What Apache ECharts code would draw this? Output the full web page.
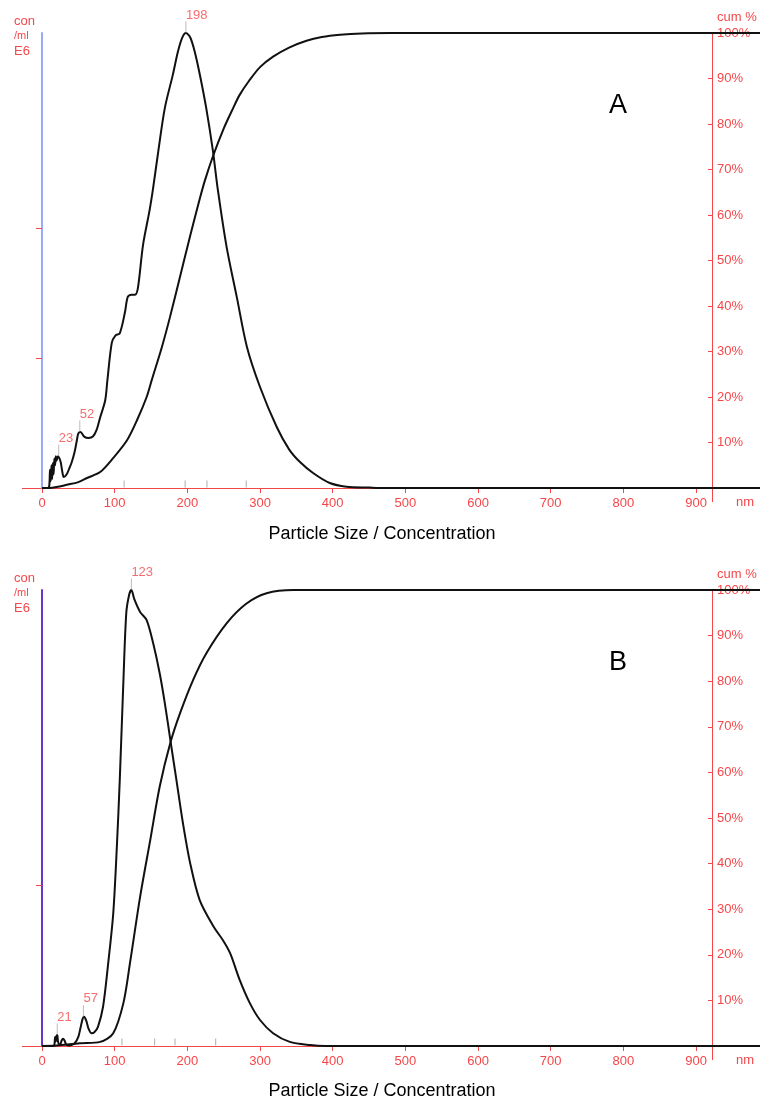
<!DOCTYPE html>
<html>
<head>
<meta charset="utf-8">
<title>Particle Size / Concentration</title>
<script src="https://cdn.jsdelivr.net/npm/echarts@6/dist/echarts.min.js"></script>
<style>
  html,body{margin:0;padding:0;background:#fff;}
  #chart{width:760px;height:1099px;}
</style>
</head>
<body>
<div id="chart"></div>
<script>
// ---- data ----
// sample A : concentration (% of mode height) and cumulative %
let sizeA_conc = [0, 8, 10, 11, 12, 13, 14, 15, 16, 17, 18, 19, 20, 22, 24, 26, 28, 30, 34, 38, 41, 45, 48, 50, 53, 58, 64, 70, 75, 80, 87, 90, 96, 101, 107, 114, 118, 123, 128, 132, 139, 148, 153, 160, 169, 180, 187, 193, 198, 204, 210, 217, 226, 235, 242, 254, 268, 282, 300, 323, 340, 355, 373, 396, 419, 450, 470, 988];
let concA = [0, 0, 0.5, 4, 1.5, 5, 2, 5.5, 3, 6.5, 5, 7, 6, 7, 6.5, 5.5, 3.5, 2.4, 3, 4.5, 5.7, 8, 10.5, 12, 12.3, 11.3, 11, 11.3, 12.7, 15.5, 19.3, 23.7, 31.9, 33.5, 34, 38.5, 42, 42.5, 42.5, 44, 53.4, 61, 66, 74, 83.5, 90.8, 95.9, 99, 100, 99, 96, 91, 83.5, 74.3, 65.5, 53, 42, 31, 22.2, 13.4, 8.5, 5.7, 3.3, 1.1, 0.3, 0.1, 0, 0];
let sizeA_cum = [0, 10, 20, 34, 50, 62, 80, 98, 117, 131, 144, 151, 165, 176, 190, 204, 217, 224, 235, 250, 263, 272, 285, 300, 318, 340, 364, 385, 410, 440, 480, 988];
let cumA = [0, 0, 0.2, 0.7, 1.3, 2.2, 3.5, 6.6, 10.5, 15, 20, 23.7, 31, 37.5, 46.5, 55.5, 63.5, 67.5, 72.8, 79, 83.5, 86.4, 89.5, 92.5, 94.8, 96.8, 98.3, 99.1, 99.6, 99.9, 100, 100];
let peaksA = [[198, 100], [23, 7], [52, 12.3]];
let statsA = [113, 197, 227, 281];
let modeA = 3.5;   // E6 at the mode (axis ticks at 1 and 2)

// sample B
let sizeB_conc = [0, 15, 17, 18, 19, 20, 21, 22, 23, 25, 27, 29, 31, 33, 36, 40, 45, 50, 53, 56, 58, 61, 64, 68, 72, 77, 84, 91, 98, 103, 107, 112, 116, 120, 123, 127, 135, 144, 153, 162, 169, 177, 185, 194, 204, 217, 236, 249, 259, 272, 286, 300, 318, 341, 369, 390, 988];
let concB = [0, 0, 0.2, 2, 1, 2.2, 2.4, 1, 0.5, 0.3, 1.2, 1.6, 1.2, 0.4, 0.1, 0.2, 0.6, 2, 4, 6, 6.4, 5.5, 3.8, 2.8, 3, 4.2, 8.6, 18, 29, 43.7, 58.3, 80, 95, 99, 100, 98, 95.2, 93.4, 88.3, 81.7, 75.2, 66.7, 58.3, 48.8, 40, 32, 26.2, 23.2, 20.3, 14.5, 9.4, 5.7, 2.8, 0.9, 0.2, 0, 0];
let sizeB_cum = [0, 20, 52, 80, 98, 112, 121, 135, 149, 162, 177, 190, 208, 226, 254, 281, 309, 346, 988];
let cumB = [0, 0.1, 0.6, 0.9, 2.8, 9.4, 18.1, 32.7, 45.2, 56.9, 66.7, 73, 80.3, 86.1, 92.7, 97, 99.3, 100, 100];
let peaksB = [[123, 100], [21, 2.4], [57, 6.4]];
let statsB = [110, 155, 183, 239];
let modeB = 2.83;

let nmTicks = [0, 100, 200, 300, 400, 500, 600, 700, 800, 900];
let cumTicks = [10, 20, 30, 40, 50, 60, 70, 80, 90, 100];

// ---- styles ----
let RED = '#f4474a';
let FONT = '"Liberation Sans", Arial, sans-serif';

let zip = (xs, ys, k) => xs.map((x, i) => [x, ys[i] * (k || 1)]);

let chart = echarts.init(document.getElementById('chart'));

function xAxisFor(g) {
  return {
    type: 'value', gridIndex: g, min: 0, max: 988, interval: 100,
    axisLine: { show: true, lineStyle: { color: RED, width: 1 } },
    axisTick: { show: true, length: 5, customValues: nmTicks, lineStyle: { color: RED } },
    axisLabel: { color: RED, fontSize: 13, fontFamily: FONT, margin: 9, customValues: nmTicks },
    splitLine: { show: false }
  };
}
function concAxisFor(g, max, ticks, lineColor) {
  return {
    type: 'value', gridIndex: g, position: 'left', min: 0, max: max,
    axisLine: { show: true, lineStyle: { color: lineColor, width: 2 } },
    axisTick: { show: true, length: 6, customValues: ticks, lineStyle: { color: RED } },
    axisLabel: { show: false },
    splitLine: { show: false }
  };
}
function cumAxisFor(g) {
  return {
    type: 'value', gridIndex: g, position: 'right', offset: -48, min: 0, max: 100, interval: 10,
    axisLine: { show: true, lineStyle: { color: RED, width: 1 } },
    axisTick: { show: true, inside: true, length: 4, customValues: cumTicks, lineStyle: { color: RED } },
    axisLabel: { color: RED, fontSize: 13, fontFamily: FONT, margin: 5, formatter: '{value}%', customValues: cumTicks },
    splitLine: { show: false }
  };
}
function curve(xi, yi, data) {
  return {
    type: 'line', xAxisIndex: xi, yAxisIndex: yi, data: data,
    showSymbol: false, smooth: 0.3, silent: true,
    lineStyle: { color: '#111', width: 2 }
  };
}
// grey marks with red size labels above the peaks
function peakMarks(xi, yi, peaks, k) {
  return {
    type: 'scatter', xAxisIndex: xi, yAxisIndex: yi, silent: true, z: 5,
    data: peaks.map(p => [p[0], p[1] * k]),
    symbol: 'rect', symbolSize: [1, 11], symbolOffset: [0, -6],
    itemStyle: { color: '#aaa' },
    label: {
      show: true, position: 'top', distance: 0, align: 'left',
      color: RED, fontSize: 13, fontFamily: FONT,
      formatter: p => p.value[0]
    }
  };
}
function statMarks(xi, yi, stats) {
  return {
    type: 'scatter', xAxisIndex: xi, yAxisIndex: yi, silent: true, z: 5,
    data: stats.map(s => [s, 0]),
    symbol: 'rect', symbolSize: [1, 7], symbolOffset: [0, -4],
    itemStyle: { color: '#999' }
  };
}
function panelText(top, letter) {
  return [
    { type: 'text', left: 14, top: top - 18, style: { text: 'con', fill: RED, font: '13px ' + FONT } },
    { type: 'text', left: 14, top: top - 3, style: { text: '/ml', fill: RED, font: '11px ' + FONT } },
    { type: 'text', left: 14, top: top + 12, style: { text: 'E6', fill: RED, font: '13px ' + FONT } },
    { type: 'text', left: 717, top: top - 22, style: { text: 'cum %', fill: RED, font: '13px ' + FONT } },
    { type: 'text', left: 609, top: top + 59, style: { text: letter, fill: '#000', font: '27px ' + FONT } }
  ];
}
function axisBits(bottomY) {
  return [
    { type: 'text', left: 736, top: bottomY + 8, style: { text: 'nm', fill: RED, font: '13px ' + FONT } },
    { type: 'line', shape: { x1: 22, y1: bottomY + 0.5, x2: 42, y2: bottomY + 0.5 }, style: { stroke: RED, lineWidth: 1 } },
    { type: 'line', shape: { x1: 712.5, y1: bottomY, x2: 712.5, y2: bottomY + 14 }, style: { stroke: RED, lineWidth: 1 } }
  ];
}

let option = {
  animation: false,
  backgroundColor: '#fff',
  title: [
    { text: 'Particle Size / Concentration', left: 377, top: 520, textAlign: 'center',
      textStyle: { color: '#000', fontSize: 18, fontWeight: 'normal', fontFamily: FONT } },
    { text: 'Particle Size / Concentration', left: 377, top: 1077, textAlign: 'center',
      textStyle: { color: '#000', fontSize: 18, fontWeight: 'normal', fontFamily: FONT } }
  ],
  grid: [
    { left: 42, right: 0, top: 33, height: 455 },
    { left: 42, right: 0, top: 590, height: 456 }
  ],
  xAxis: [xAxisFor(0), xAxisFor(1)],
  yAxis: [
    concAxisFor(0, modeA, [1, 2], '#9aa8ff'),
    cumAxisFor(0),
    concAxisFor(1, modeB, [1], '#6a35c8'),
    cumAxisFor(1)
  ],
  series: [
    curve(0, 0, zip(sizeA_conc, concA, modeA / 100)),
    curve(0, 1, zip(sizeA_cum, cumA)),
    peakMarks(0, 0, peaksA, modeA / 100),
    statMarks(0, 0, statsA),
    curve(1, 2, zip(sizeB_conc, concB, modeB / 100)),
    curve(1, 3, zip(sizeB_cum, cumB)),
    peakMarks(1, 2, peaksB, modeB / 100),
    statMarks(1, 2, statsB)
  ],
  graphic: [].concat(panelText(33, 'A'), axisBits(488), panelText(590, 'B'), axisBits(1046))
};

chart.setOption(option);
</script>
</body>
</html>
